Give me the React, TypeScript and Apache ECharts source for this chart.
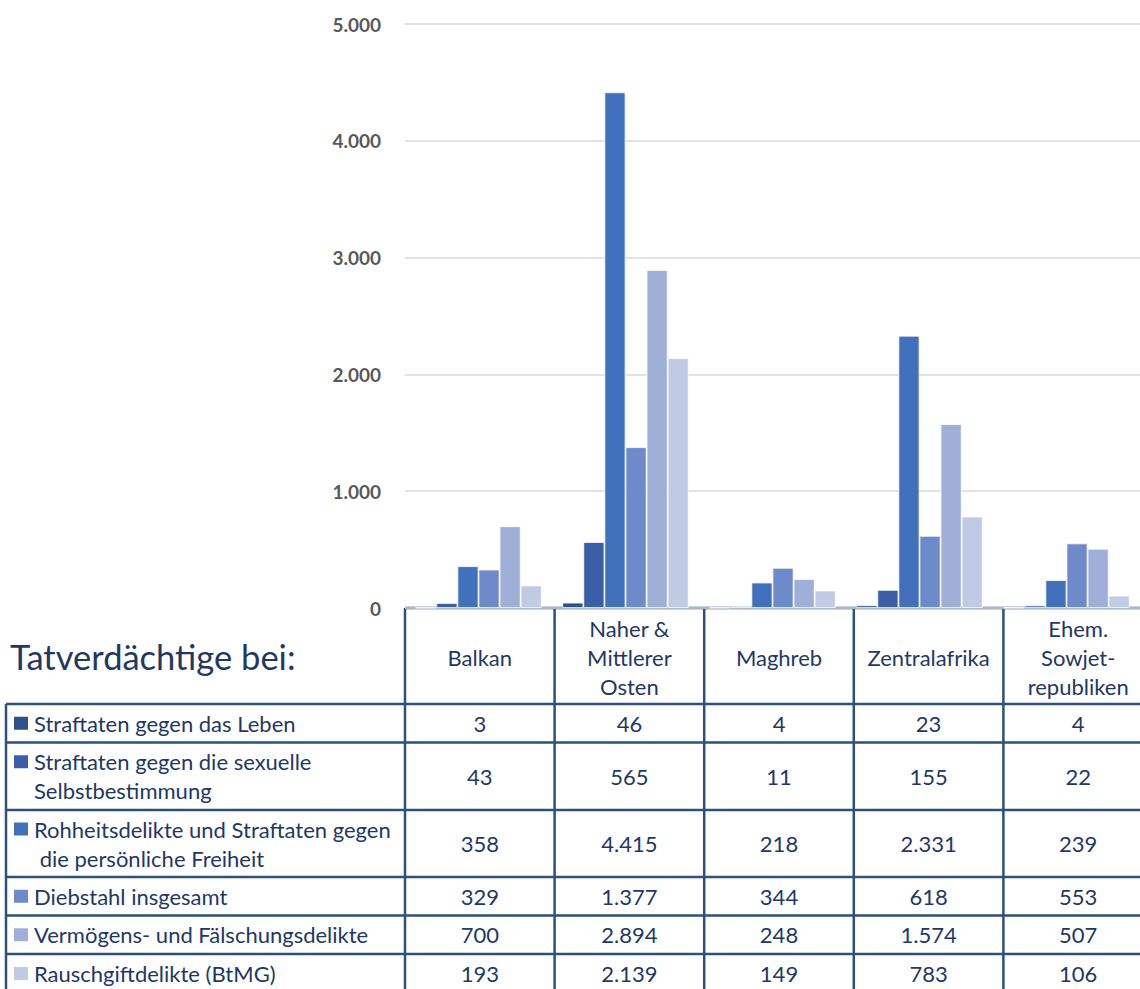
import React, { useEffect, useRef } from "react";
import * as echarts from "echarts";

const categories = ["Balkan", "Naher & Mittlerer Osten", "Maghreb", "Zentralafrika", "Ehem. Sowjetrepubliken"];
const categoryLabels = ["Balkan", "Naher &\nMittlerer\nOsten", "Maghreb", "Zentralafrika", "Ehem.\nSowjet-\nrepubliken"];

const seriesNames = [
  "Straftaten gegen das Leben",
  "Straftaten gegen die sexuelle Selbstbestimmung",
  "Rohheitsdelikte und Straftaten gegen die persönliche Freiheit",
  "Diebstahl insgesamt",
  "Vermögens- und Fälschungsdelikte",
  "Rauschgiftdelikte (BtMG)",
];
const seriesLabels = [
  "Straftaten gegen das Leben",
  "Straftaten gegen die sexuelle\nSelbstbestimmung",
  "Rohheitsdelikte und Straftaten gegen\n die persönliche Freiheit",
  "Diebstahl insgesamt",
  "Vermögens- und Fälschungsdelikte",
  "Rauschgiftdelikte (BtMG)",
];

const leben = [3, 46, 4, 23, 4];
const sexuell = [43, 565, 11, 155, 22];
const rohheit = [358, 4415, 218, 2331, 239];
const diebstahl = [329, 1377, 344, 618, 553];
const vermoegen = [700, 2894, 248, 1574, 507];
const rausch = [193, 2139, 149, 783, 106];
const seriesValues = [leben, sexuell, rohheit, diebstahl, vermoegen, rausch];

const yTicks = [0, 1000, 2000, 3000, 4000, 5000];

const colors = ["#2F528F", "#3A5EA8", "#4170BD", "#6F8ACA", "#A0AFD8", "#C1CAE5"];

const W = 1140;
const H = 989;
const gridLeft = 405;
const gridWidth = 748;
const gridTop = 24;
const gridBottomY = 608;
const tableLeft = 6;
const rowY = [608, 704, 742.5, 810, 877, 915.5, 954, 993];
const FONT = "Lato, 'Noto Sans', sans-serif";
const TEXT = "#1F3864";
const LINE = "#2C5080";
const FS = 22;

const fmt = (v: number) => String(v).replace(/\B(?=(\d{3})+(?!\d))/g, ".");

export default function App() {
  const ref = useRef<HTMLDivElement>(null);
  useEffect(() => {
    if (!ref.current) return;
    const chart = echarts.init(ref.current, undefined, { renderer: "svg" });
    const cw = gridWidth / categories.length;
    const graphics: any[] = [];
    // title
    graphics.push({
      type: "text",
      x: 10,
      y: 656,
      style: { text: "Tatverdächtige bei:", font: `34.5px ${FONT}`, fill: TEXT, align: "left", verticalAlign: "middle" },
    });
    const lineStyle = { stroke: LINE, lineWidth: 2.5 };
    const tableRight = gridLeft + gridWidth;
    // horizontal lines
    graphics.push({ type: "line", shape: { x1: gridLeft, y1: rowY[0], x2: tableRight, y2: rowY[0] }, style: lineStyle });
    for (let i = 1; i < rowY.length; i++) {
      graphics.push({ type: "line", shape: { x1: tableLeft, y1: rowY[i], x2: tableRight, y2: rowY[i] }, style: lineStyle });
    }
    // vertical lines
    graphics.push({ type: "line", shape: { x1: tableLeft, y1: rowY[1], x2: tableLeft, y2: H + 5 }, style: lineStyle });
    for (let c = 0; c <= categories.length; c++) {
      const x = gridLeft + c * cw;
      graphics.push({ type: "line", shape: { x1: x, y1: rowY[0], x2: x, y2: H + 5 }, style: lineStyle });
    }
    // header labels
    categoryLabels.forEach((lab, c) => {
      graphics.push({
        type: "text",
        x: gridLeft + (c + 0.5) * cw,
        y: (rowY[0] + rowY[1]) / 2 + 1,
        style: {
          text: lab,
          font: `${FS}px ${FONT}`,
          fill: TEXT,
          align: "center",
          verticalAlign: "middle",
          lineHeight: 29,
        },
      });
    });
    // rows
    seriesLabels.forEach((lab, r) => {
      const cy = (rowY[r + 1] + rowY[r + 2]) / 2;
      const nLines = lab.split("\n").length;
      const firstLineY = cy - ((nLines - 1) * 29) / 2;
      graphics.push({
        type: "rect",
        shape: { x: 14, y: firstLineY - 6.5, width: 14, height: 13 },
        style: { fill: colors[r] },
      });
      graphics.push({
        type: "text",
        x: 34,
        y: cy,
        style: { text: lab, font: `${FS}px ${FONT}`, fill: TEXT, align: "left", verticalAlign: "middle", lineHeight: 29 },
      });
      seriesValues[r].forEach((v, c) => {
        graphics.push({
          type: "text",
          x: gridLeft + (c + 0.5) * cw,
          y: cy,
          style: { text: fmt(v), font: `${FS}px ${FONT}`, fill: TEXT, align: "center", verticalAlign: "middle" },
        });
      });
    });

    chart.setOption({
      animation: false,
      grid: { left: gridLeft, right: W - gridLeft - gridWidth, top: gridTop, bottom: H - gridBottomY, containLabel: false },
      xAxis: {
        type: "category",
        data: categories,
        axisLine: { show: false },
        axisTick: { show: false },
        axisLabel: { show: false },
      },
      yAxis: {
        type: "value",
        min: yTicks[0],
        max: yTicks[yTicks.length - 1],
        interval: 1000,
        axisLine: { show: false },
        axisTick: { show: false },
        splitLine: { lineStyle: { color: "#D9D9D9", width: 1.5 } },
        axisLabel: {
          formatter: (v: number) => fmt(v),
          color: "#595959",
          fontWeight: "bold",
          fontSize: 19,
          fontFamily: FONT,
          margin: 24,
        },
      },
      series: seriesNames.map((name, i) => ({
        name,
        type: "bar",
        data: seriesValues[i],
        barGap: "0%",
        barCategoryGap: "14%",
        itemStyle: { color: colors[i], borderColor: "#FFFFFF", borderWidth: 0.8 },
      })),
      graphic: graphics,
    });
    return () => chart.dispose();
  }, []);
  return (
    <div
      ref={ref}
      style={{ position: "fixed", left: 0, top: 0, width: W, height: H, background: "#fff" }}
    />
  );
}
